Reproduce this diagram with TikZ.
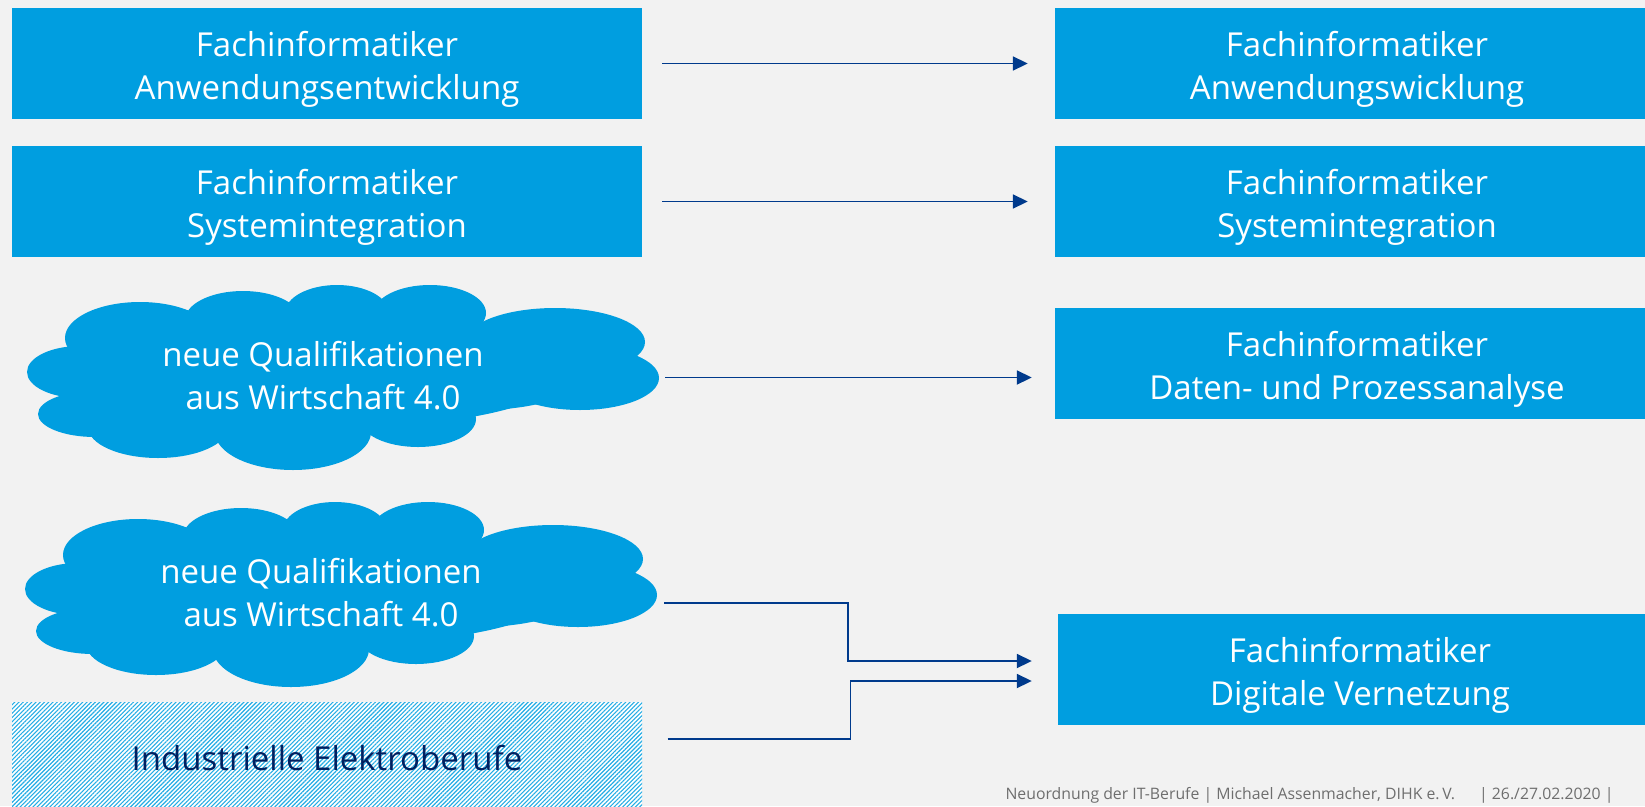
\documentclass[tikz,border=0pt]{standalone}
\usepackage{fontspec}
\setmainfont{Open Sans}
\usetikzlibrary{arrows.meta,patterns.meta,positioning}

\definecolor{fiblue}{RGB}{0,158,224}
\definecolor{arrblue}{RGB}{0,58,140}
\definecolor{navy}{RGB}{0,32,96}
\definecolor{bggray}{RGB}{242,242,242}
\definecolor{footgray}{RGB}{110,110,110}

\newcommand{\bigtxt}{\fontsize{33}{43}\selectfont}
\newcommand{\hoch}{\rule{0pt}{37pt}}
% Wolke aus Ellipsen (Koordinaten der oberen Wolke)
\newcommand{\wolke}{%
	\fill (80,372) ellipse [x radius=53pt,y radius=26pt];
	\fill (95,414) ellipse [x radius=57pt,y radius=23pt];
	\fill (140,338) ellipse [x radius=75pt,y radius=36pt];
	\fill (243,320) ellipse [x radius=58pt,y radius=29pt];
	\fill (337,313) ellipse [x radius=52pt,y radius=28pt];
	\fill (430,313) ellipse [x radius=56pt,y radius=28pt];
	\fill (555,342) ellipse [x radius=90pt,y radius=34pt];
	\fill (580,378) ellipse [x radius=79pt,y radius=32pt];
	\fill (418,419) ellipse [x radius=58pt,y radius=28pt];
	\fill (293,432) ellipse [x radius=78pt,y radius=38pt];
	\fill (158,427) ellipse [x radius=70pt,y radius=31pt];
	\fill (345,372) ellipse [x radius=220pt,y radius=55pt];
	\fill (190,385) ellipse [x radius=120pt,y radius=42pt];
	\fill (480,370) ellipse [x radius=110pt,y radius=40pt];
}

\begin{document}
\begin{tikzpicture}[x=1pt,y=-1pt]
		\tikzstyle{job}=[fill=fiblue,text=white,font=\bigtxt,align=center,inner sep=0pt,minimum height=111pt]
		\tikzstyle{oldjob}=[job,minimum width=630pt]
		\tikzstyle{newjob}=[job,minimum width=604pt]
		\tikzstyle{wolkenrahmen}=[inner sep=0pt,minimum width=626pt,minimum height=185pt]
		\tikzstyle{wolketext}=[text=white,font=\bigtxt,align=center]
		\tikzstyle{elektro}=[preaction={fill=white},pattern={Lines[angle=45,distance=3pt,line width=1.1pt]},pattern color=fiblue!85,text=navy,font=\bigtxt,minimum width=630pt,minimum height=112pt,inner sep=0pt]
		\tikzstyle{link}=[draw=arrblue,line width=1.8pt,-{Triangle[length=15pt,width=14pt]}]

		\useasboundingbox[fill=bggray] (0,0) rectangle (1645,806);

		% alte Berufe
		\node [oldjob] (fa) at (327,63.5) {\hoch Fachinformatiker\\Anwendungsentwicklung};
		\node [oldjob] (fs) at (327,201.5) {\hoch Fachinformatiker\\Systemintegration};
		\begin{scope}[fill=fiblue]
			\wolke
		\end{scope}
		\begin{scope}[fill=fiblue,shift={(-2,217)}]
			\wolke
		\end{scope}
		\node [wolkenrahmen] (w1) at (346,377.5) {};
		\node [wolkenrahmen] (w2) at (344,594.5) {};
		\node [wolketext] (w1t) at (323,376) {neue Qualifikationen\\aus Wirtschaft 4.0};
		\node [wolketext] (w2t) at (321,593) {neue Qualifikationen\\aus Wirtschaft 4.0};
		\node [elektro] (ie) at (327,758) {Industrielle Elektroberufe};

		% neue Berufe
		\node [newjob] (na) at (1357,63.5) {\hoch Fachinformatiker\\Anwendungswicklung};
		\node [newjob] (ns) at (1357,201.5) {\hoch Fachinformatiker\\Systemintegration};
		\node [newjob] (nd) at (1357,363.25) {\hoch Fachinformatiker\\Daten- und Prozessanalyse};
		\node [newjob] (nv) at (1360,669.5) {\hoch Fachinformatiker\\Digitale Vernetzung};

		\path[link,shorten <=20pt,shorten >=27pt] (fa) -- (na);
		\path[link,shorten <=20pt,shorten >=27pt] (fs) -- (ns);
		\path[link,shorten <=6pt,shorten >=23pt] (w1.east) -- (w1.east -| nd.west);
		\path[link] ([shift={(7,8.5)}]w2.east) -- ++(184,0) |- ([shift={(-26,-8.5)}]nv.west);
		\path[link] ([shift={(25,-19)}]ie.east) -- ++(183,0) |- ([shift={(-26,11.5)}]nv.west);

		\node [anchor=base east,text=footgray,font=\fontsize{15.8}{19}\selectfont] (ft) at (1617,799.5) {Neuordnung der IT-Berufe | Michael Assenmacher, DIHK e.\,V.\hspace{24pt}| 26./27.02.2020 |};
\end{tikzpicture}
\end{document}
